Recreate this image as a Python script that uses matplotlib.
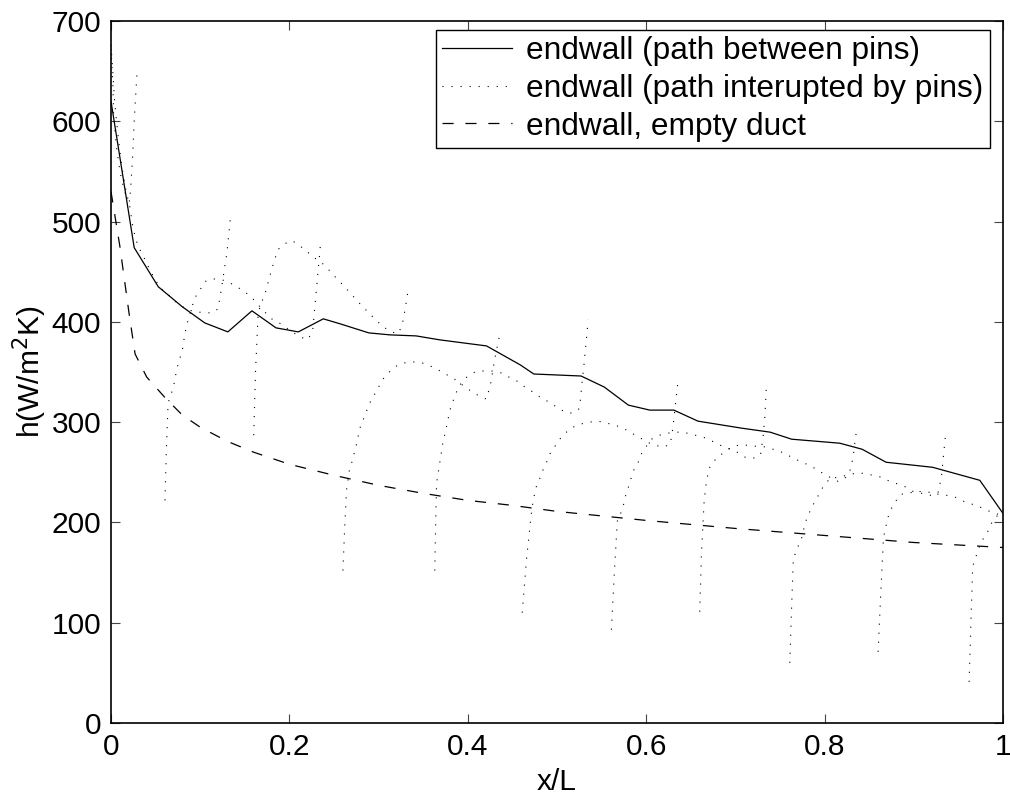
import numpy as np
import matplotlib
matplotlib.use("Agg")
import matplotlib.pyplot as plt

plt.rcParams['font.family'] = ['Liberation Sans', 'DejaVu Sans']
plt.rcParams['lines.scale_dashes'] = False

nan = np.nan

# endwall, path between pins
between_x = [0.0, 0.026, 0.053, 0.080, 0.105, 0.131, 0.158, 0.185, 0.210, 0.238,
             0.257, 0.289, 0.313, 0.342, 0.369, 0.395, 0.421, 0.459, 0.474, 0.527,
             0.553, 0.580, 0.604, 0.631, 0.658, 0.707, 0.739, 0.763, 0.817, 0.842,
             0.869, 0.921, 0.974, 1.0]
between_h = [620, 474, 435, 415, 399, 390, 411, 394, 390, 403,
             398, 389, 387, 386, 382, 379, 376, 357, 348, 346,
             335, 317, 312, 312, 301, 294, 290, 283, 279, 273,
             260, 255, 242, 209]

# endwall, path interrupted by pins (two pin rows, gaps inside the pins)
pins_a_x = [0.0, 0.002, 0.003, 0.006, 0.010, 0.015, 0.021, 0.024, 0.026, 0.029, nan,
            0.0605, 0.062, 0.064, 0.070, 0.074, 0.080, 0.083, 0.087, 0.094, 0.100,
            0.105, 0.113, 0.124, 0.131, 0.141, 0.150, 0.158, 0.170, 0.180, 0.187,
            0.195, 0.210, 0.220, 0.226, 0.229, 0.232, 0.235, nan,
            0.260, 0.262, 0.264, 0.267, 0.270, 0.275, 0.279, 0.283, 0.290, 0.295,
            0.300, 0.305, 0.312, 0.320, 0.328, 0.339, 0.349, 0.358, 0.367, 0.375,
            0.385, 0.394, 0.405, 0.415, 0.421, 0.426, 0.430, 0.435, nan,
            0.461, 0.466, 0.472, 0.476, 0.480, 0.483, 0.488, 0.491, 0.497, 0.502,
            0.509, 0.518, 0.526, 0.536, 0.546, 0.556, 0.565, 0.574, 0.584, 0.592,
            0.601, 0.610, 0.619, 0.627, 0.630, 0.633, 0.636, nan,
            0.660, 0.662, 0.665, 0.667, 0.670, 0.675, 0.680, 0.686, 0.694, 0.703,
            0.713, 0.722, 0.730, 0.742, 0.752, 0.761, 0.770, 0.780, 0.789, 0.798,
            0.806, 0.815, 0.822, 0.828, 0.832, 0.834, 0.836, nan,
            0.860, 0.863, 0.866, 0.867, 0.869, 0.871, 0.875, 0.879, 0.884, 0.889,
            0.899, 0.909, 0.918, 0.928, 0.937, 0.947, 0.956, 0.966, 0.975, 0.985,
            0.995, 1.0]
pins_a_h = [672, 640, 605, 575, 550, 530, 520, 560, 600, 646, nan,
            222, 270, 319, 335, 354, 372, 389, 404, 424, 432,
            440, 443, 442, 440, 435, 430, 424, 412, 403, 400,
            395, 386, 382, 390, 420, 450, 479, nan,
            152, 195, 232, 251, 260, 277, 294, 303, 319, 327,
            335, 343, 350, 356, 359, 360, 359, 356, 352, 348,
            343, 337, 330, 325, 323, 340, 362, 384, nan,
            110, 165, 215, 234, 242, 250, 259, 267, 275, 282,
            289, 295, 298, 300, 301, 299, 297, 294, 289, 285,
            280, 277, 275, 278, 295, 320, 344, nan,
            111, 170, 222, 237, 253, 260, 265, 269, 274, 277,
            277, 276, 276, 273, 270, 266, 262, 258, 254, 249,
            245, 241, 243, 250, 265, 280, 293, nan,
            71, 130, 185, 189, 197, 205, 214, 220, 227, 229,
            230, 231, 230, 228, 227, 225, 221, 218, 215, 211,
            208, 206]

pins_b_x = [0.0, 0.002, 0.004, 0.008, 0.012, 0.017, 0.021, 0.025, 0.030, 0.036,
            0.044, 0.049, 0.055, 0.063, 0.075, 0.086, 0.096, 0.105, 0.114, 0.120,
            0.124, 0.127, 0.130, 0.134, nan,
            0.160, 0.162, 0.165, 0.169, 0.173, 0.180, 0.187, 0.195, 0.203, 0.210,
            0.220, 0.226, 0.235, 0.242, 0.249, 0.263, 0.277, 0.290, 0.305, 0.315,
            0.321, 0.326, 0.330, 0.333, nan,
            0.363, 0.364, 0.365, 0.369, 0.372, 0.376, 0.380, 0.383, 0.387, 0.389,
            0.399, 0.408, 0.417, 0.427, 0.438, 0.446, 0.455, 0.464, 0.473, 0.481,
            0.489, 0.498, 0.507, 0.515, 0.524, 0.526, 0.528, 0.530, 0.532, 0.535, nan,
            0.561, 0.564, 0.567, 0.568, 0.572, 0.575, 0.577, 0.580, 0.583, 0.586,
            0.591, 0.595, 0.601, 0.606, 0.615, 0.624, 0.636, 0.646, 0.655, 0.664,
            0.674, 0.683, 0.692, 0.702, 0.711, 0.720, 0.728, 0.731, 0.733, 0.734,
            0.735, nan,
            0.761, 0.763, 0.765, 0.769, 0.771, 0.775, 0.777, 0.780, 0.784, 0.788,
            0.793, 0.798, 0.806, 0.815, 0.825, 0.834, 0.844, 0.854, 0.864, 0.873,
            0.883, 0.892, 0.899, 0.909, 0.918, 0.927, 0.929, 0.931, 0.933, 0.936, nan,
            0.962, 0.964, 0.966, 0.969, 0.972, 0.975, 0.982, 0.987, 0.991, 0.996,
            1.0]
pins_b_h = [676, 650, 620, 585, 555, 530, 515, 492, 476, 466,
            451, 443, 434, 428, 418, 412, 410, 409, 409, 413,
            434, 452, 469, 505, nan,
            287, 350, 409, 420, 429, 452, 472, 478, 481, 477,
            470, 465, 460, 454, 447, 434, 420, 408, 395, 390,
            388, 395, 414, 431, nan,
            152, 200, 239, 262, 279, 295, 312, 320, 329, 335,
            345, 350, 351, 351, 349, 345, 341, 335, 330, 325,
            321, 316, 311, 309, 312, 320, 339, 355, 374, 402, nan,
            93, 145, 192, 205, 210, 219, 227, 235, 244, 252,
            260, 269, 277, 283, 287, 289, 290, 289, 287, 285,
            281, 277, 274, 270, 265, 264, 267, 285, 305, 322,
            340, nan,
            60, 115, 165, 172, 178, 186, 195, 204, 212, 219,
            227, 235, 244, 245, 247, 249, 249, 247, 245, 241,
            238, 235, 231, 229, 227, 229, 237, 245, 264, 291, nan,
            41, 100, 156, 164, 172, 180, 189, 199, 205, 208,
            210]

# endwall, empty duct
empty_x = [0.0, 0.010, 0.020, 0.027, 0.040, 0.060, 0.080, 0.100, 0.130, 0.160,
           0.200, 0.250, 0.300, 0.350, 0.400, 0.450, 0.500, 0.600, 0.700, 0.800,
           0.900, 1.0]
empty_h = [530, 475, 410, 368, 345, 325, 307, 295, 281, 270,
           258, 247, 237, 229, 222, 217, 211, 202, 194, 187,
           180, 175]

labels = ['endwall (path between pins)',
          'endwall (path interupted by pins)',
          'endwall, empty duct']

fig = plt.figure(figsize=(10.10, 7.96), dpi=100)
ax = fig.add_axes([111 / 1010, 1 - 723 / 796, (1003 - 111) / 1010, (723 - 21) / 796])

ax.plot(between_x, between_h, color='k', lw=0.9, label=labels[0])
dot_style = dict(color='k', lw=0.8, dashes=(0.8, 5.7), dash_capstyle='butt')
ax.plot(pins_a_x, pins_a_h, label=labels[1], **dot_style)
ax.plot(pins_b_x, pins_b_h, **dot_style)
ax.plot(empty_x, empty_h, color='k', lw=0.9, dashes=(8.0, 8.5), label=labels[2])

ax.set_xlim(0, 1)
ax.set_ylim(0, 700)
ax.set_xticks([0, 0.2, 0.4, 0.6, 0.8, 1.0])
ax.set_xticklabels(['0', '0.2', '0.4', '0.6', '0.8', '1'])
ax.set_yticks(np.arange(0, 701, 100))
ax.tick_params(direction='in', length=6.5, width=0.8, color='#444444',
               top=True, right=True, labelsize=21.5, pad=7)
for s in ax.spines.values():
    s.set_linewidth(1.2)

ax.set_xlabel('x/L', fontsize=21.5, labelpad=5)
ax.set_ylabel('h(W/m$^2$K)', fontsize=21.5, labelpad=2)

leg = ax.legend(loc='upper right', bbox_to_anchor=(990 / 1010, 1 - 30 / 796),
                bbox_transform=fig.transFigure, borderaxespad=0,
                fontsize=22.8, frameon=True, fancybox=False, framealpha=1,
                edgecolor='k', handlelength=2.2, handletextpad=0.45,
                labelspacing=0.24, borderpad=0.2)
leg.get_frame().set_linewidth(1.0)

fig.savefig('out.png', dpi=100)
